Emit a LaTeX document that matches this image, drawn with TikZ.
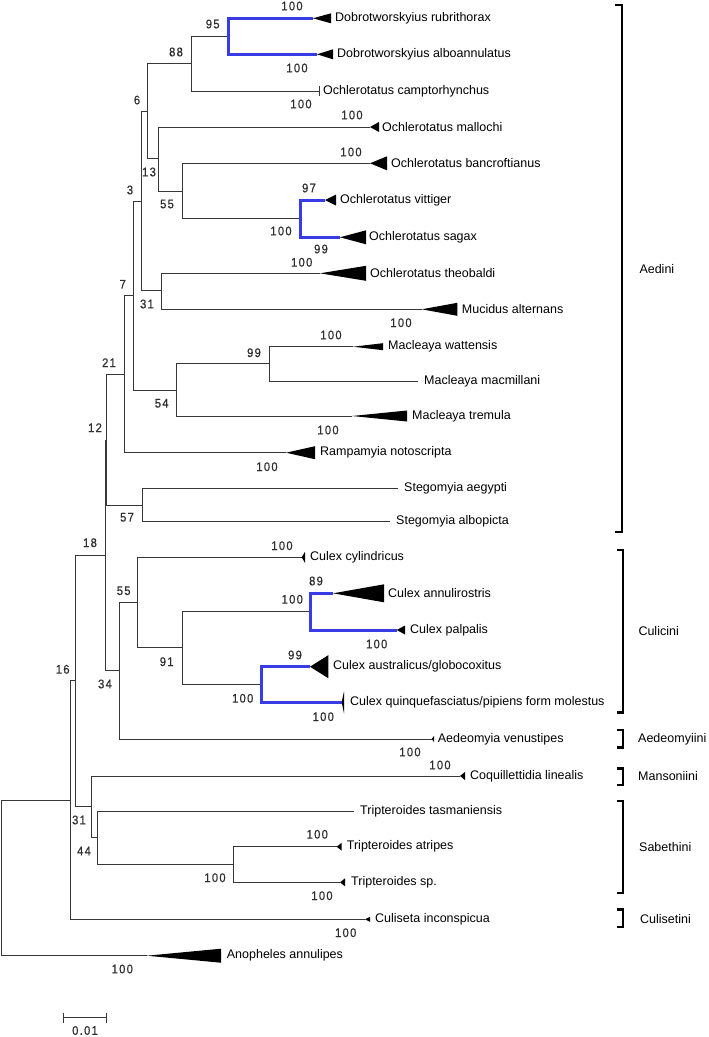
\documentclass[tikz,border=0pt]{standalone}
\usepackage{fontspec}
\setmainfont{Liberation Sans}
\newfontfamily\bsfont[FakeStretch=0.9,LetterSpace=10,FakeBold=0.6]{Liberation Sans}
\definecolor{treeline}{RGB}{55,55,55}
\definecolor{cladeblue}{RGB}{55,60,230}
\definecolor{bsgray}{RGB}{45,45,45}
\newcommand\mytri[3]{\fill[black] (#1) -- ++(#2,#3) -- ++(0,-2*#3) -- cycle;}
\begin{document}
\begin{tikzpicture}[x=1pt,y=-1pt,
  br/.style={draw=treeline,line width=1pt},
  bbr/.style={draw=cladeblue,line width=3pt},
  taxon/.style={anchor=west,inner sep=0pt,font=\fontsize{12.5}{14}\selectfont},
  bs/.style={inner sep=0pt,font=\bsfont\fontsize{12.5}{14}\selectfont,text=bsgray},
  tribe/.style={anchor=west,inner sep=0pt,font=\fontsize{12.5}{14}\selectfont},
  brk/.style={draw=black,line width=2.4pt}]
\useasboundingbox (0,0) rectangle (709,1037);

% ---- internal nodes (x, midpoint y)
\coordinate (root) at (1,800);
\coordinate (x7) at (70.7,800);
\coordinate (x8) at (75.3,680);
\coordinate (x6) at (105.3,555);
\coordinate (x5) at (106.7,440);
\coordinate (x4) at (124.7,374.3);
\coordinate (x3) at (133.3,295.7);
\coordinate (x2) at (141.7,201.7);
\coordinate (x1) at (147.3,111.7);
\coordinate (n88) at (191.3,63.3);
\coordinate (n95) at (228.7,36);
\coordinate (n13) at (158.7,158.6);
\coordinate (n55) at (182.3,191);
\coordinate (nvs) at (300,218.3);
\coordinate (n31) at (161.7,290);
\coordinate (n54) at (176,390);
\coordinate (n99) at (269,363.3);
\coordinate (n57) at (142.3,505.5);
\coordinate (n34) at (119,670);
\coordinate (n55b) at (137.7,602.3);
\coordinate (n91) at (182.3,647.3);
\coordinate (nann) at (310.7,611.7);
\coordinate (naus) at (261,684);
\coordinate (x9) at (91,806);
\coordinate (x10) at (97.7,837.3);
\coordinate (x11) at (233.3,864);

% ---- tips (branch end points)
\coordinate (t1) at (313,18.3);
\coordinate (t2) at (317,54.3);
\coordinate (t3) at (319,91);
\coordinate (t4) at (370,127);
\coordinate (t5) at (370,163.3);
\coordinate (t6) at (325,200);
\coordinate (t7) at (340,237.3);
\coordinate (t8) at (320,273.3);
\coordinate (t9) at (421.7,309.3);
\coordinate (t10) at (353,346.7);
\coordinate (t11) at (418,381);
\coordinate (t12) at (352,416);
\coordinate (t13) at (286,452.7);
\coordinate (t14) at (398,488.3);
\coordinate (t15) at (390,521.7);
\coordinate (t16) at (301.7,557.3);
\coordinate (t17) at (333,593.3);
\coordinate (t18) at (396.7,630);
\coordinate (t19) at (310,666.7);
\coordinate (t20) at (341.7,702.3);
\coordinate (t21) at (431.7,739);
\coordinate (t22) at (460,776);
\coordinate (t23) at (354,811);
\coordinate (t24) at (336.7,846.7);
\coordinate (t25) at (340,882.3);
\coordinate (t26) at (365,919.3);
\coordinate (t27) at (146.7,955.7);

% ---- black branches
\draw[br] (root) |- (x7);
\draw[br] (root) |- (t27);
\draw[br] (x7) |- (x8);
\draw[br] (x7) |- (t26);
\draw[br] (x8) |- (x6);
\draw[br] (x8) |- (x9);
\draw[br] (x9) |- (t22);
\draw[br] (x9) |- (x10);
\draw[br] (x10) |- (t23);
\draw[br] (x10) |- (x11);
\draw[br] (x11) |- (t24);
\draw[br] (x11) |- (t25);
\draw[br] (x6) |- (x5);
\draw[br] (x6) |- (n34);
\draw[br] (n34) |- (n55b);
\draw[br] (n34) |- (t21);
\draw[br] (n55b) |- (t16);
\draw[br] (n55b) |- (n91);
\draw[br] (n91) |- (nann);
\draw[br] (n91) |- (naus);
\draw[br] (x5) |- (x4);
\draw[br] (x5) |- (n57);
\draw[br] (n57) |- (t14);
\draw[br] (n57) |- (t15);
\draw[br] (x4) |- (x3);
\draw[br] (x4) |- (t13);
\draw[br] (x3) |- (x2);
\draw[br] (x3) |- (n54);
\draw[br] (n54) |- (n99);
\draw[br] (n54) |- (t12);
\draw[br] (n99) |- (t10);
\draw[br] (n99) |- (t11);
\draw[br] (x2) |- (x1);
\draw[br] (x2) |- (n31);
\draw[br] (n31) |- (t8);
\draw[br] (n31) |- (t9);
\draw[br] (x1) |- (n88);
\draw[br] (x1) |- (n13);
\draw[br] (n88) |- (n95);
\draw[br] (n88) |- (t3);
\draw[br] (t3) ++(0,-5) -- ++(0,10);
\draw[br] (n13) |- (t4);
\draw[br] (n13) |- (n55);
\draw[br] (n55) |- (t5);
\draw[br] (n55) |- (nvs);

% ---- blue branches
\draw[bbr] (n95) |- (t1);
\draw[bbr] (n95) |- (t2);
\draw[bbr] (nvs) |- (t6);
\draw[bbr] (nvs) |- (t7);
\draw[bbr] (nann) |- (t17);
\draw[bbr] (nann) |- (t18);
\draw[bbr] (naus) |- (t19);
\draw[bbr] (naus) |- (t20);

% ---- collapsed clades
\mytri{t1}{18}{5}
\mytri{t2}{16}{5}
\mytri{t4}{9}{5}
\mytri{t5}{17}{7}
\mytri{t6}{11}{5.5}
\mytri{t7}{26}{7}
\mytri{t8}{46}{7.5}
\mytri{t9}{35.6}{6.5}
\mytri{t10}{30}{3.5}
\mytri{t12}{55}{5.5}
\mytri{t13}{29}{6.5}
\mytri{t16}{3.3}{5.5}
\mytri{t17}{51}{9}
\mytri{t18}{8.3}{4.5}
\mytri{t19}{18.3}{11.5}
\mytri{t20}{2.3}{11}
\mytri{t21}{2.3}{3}
\mytri{t22}{5}{4}
\mytri{t24}{5}{4}
\mytri{t25}{5}{4}
\mytri{t26}{5}{2.5}
\mytri{t27}{74.3}{7}

% ---- taxon labels
\node[taxon] (l1) at (335,18.3) {Dobrotworskyius rubrithorax};
\node[taxon] (l2) at (337,54.3) {Dobrotworskyius alboannulatus};
\node[taxon] (l3) at (323,91) {Ochlerotatus camptorhynchus};
\node[taxon] (l4) at (382,127) {Ochlerotatus mallochi};
\node[taxon] (l5) at (391,163.3) {Ochlerotatus bancroftianus};
\node[taxon] (l6) at (340,200) {Ochlerotatus vittiger};
\node[taxon] (l7) at (369,237.3) {Ochlerotatus sagax};
\node[taxon] (l8) at (370,273.3) {Ochlerotatus theobaldi};
\node[taxon] (l9) at (461.7,309.3) {Mucidus alternans};
\node[taxon] (l10) at (388,346.7) {Macleaya wattensis};
\node[taxon] (l11) at (424,381) {Macleaya macmillani};
\node[taxon] (l12) at (412,416) {Macleaya tremula};
\node[taxon] (l13) at (320,452.7) {Rampamyia notoscripta};
\node[taxon] (l14) at (404,488.3) {Stegomyia aegypti};
\node[taxon] (l15) at (396,521.7) {Stegomyia albopicta};
\node[taxon] (l16) at (310,557.3) {Culex cylindricus};
\node[taxon] (l17) at (388,593.3) {Culex annulirostris};
\node[taxon] (l18) at (410,630) {Culex palpalis};
\node[taxon] (l19) at (333,666.7) {Culex australicus/globocoxitus};
\node[taxon] (l20) at (350,702.3) {Culex quinquefasciatus/pipiens form molestus};
\node[taxon] (l21) at (437.7,739) {Aedeomyia venustipes};
\node[taxon] (l22) at (470,776) {Coquillettidia linealis};
\node[taxon] (l23) at (360,811) {Tripteroides tasmaniensis};
\node[taxon] (l24) at (346.7,846.7) {Tripteroides atripes};
\node[taxon] (l25) at (351,882.3) {Tripteroides sp.};
\node[taxon] (l26) at (375,919.3) {Culiseta inconspicua};
\node[taxon] (l27) at (226.7,955.7) {Anopheles annulipes};

% ---- bootstrap values
\node[bs] (b1) at (292,6) {100};
\node[bs] (b2) at (212.7,24) {95};
\node[bs] (b3) at (297,68) {100};
\node[bs] (b4) at (176,52) {88};
\node[bs] (b5) at (301,104) {100};
\node[bs] (b6) at (137,100) {6};
\node[bs] (b7) at (352,115) {100};
\node[bs] (b8) at (149,172) {13};
\node[bs] (b9) at (351,152) {100};
\node[bs] (b10) at (130,190) {3};
\node[bs] (b11) at (167,204) {55};
\node[bs] (b12) at (309,188) {97};
\node[bs] (b13) at (281,231) {100};
\node[bs] (b14) at (321,249) {99};
\node[bs] (b15) at (301.7,262.3) {100};
\node[bs] (b16) at (122.7,284.3) {7};
\node[bs] (b17) at (147,304) {31};
\node[bs] (b18) at (401,322.7) {100};
\node[bs] (b19) at (331,335) {100};
\node[bs] (b20) at (254,352.7) {99};
\node[bs] (b21) at (109,362.7) {21};
\node[bs] (b22) at (161.7,403.3) {54};
\node[bs] (b23) at (328,430) {100};
\node[bs] (b24) at (95,427.7) {12};
\node[bs] (b25) at (267,466.7) {100};
\node[bs] (b26) at (127,517.3) {57};
\node[bs] (b27) at (90,542.7) {18};
\node[bs] (b28) at (282,545.7) {100};
\node[bs] (b29) at (316,581) {89};
\node[bs] (b30) at (123.7,590.7) {55};
\node[bs] (b31) at (292.3,599.3) {100};
\node[bs] (b32) at (376.7,644) {100};
\node[bs] (b33) at (295,655) {99};
\node[bs] (b34) at (166.7,661.7) {91};
\node[bs] (b35) at (62.7,669.3) {16};
\node[bs] (b36) at (105,684) {34};
\node[bs] (b37) at (242.7,698.3) {100};
\node[bs] (b38) at (323.3,716.7) {100};
\node[bs] (b39) at (410,752) {100};
\node[bs] (b40) at (440,765) {100};
\node[bs] (b41) at (79,820) {31};
\node[bs] (b42) at (317.3,834.3) {100};
\node[bs] (b43) at (84,851) {44};
\node[bs] (b44) at (215,877.7) {100};
\node[bs] (b45) at (322,895.7) {100};
\node[bs] (b46) at (345.7,932.7) {100};
\node[bs] (b47) at (122.3,969) {100};

% ---- tribe brackets
\draw[brk] (615,5) -- (622,5) -- (622,532) -- (615,532);
\node[tribe] (r1) at (639.3,269) {Aedini};
\draw[brk] (616.5,550) -- (623,550) -- (623,712.3) -- (616.5,712.3);
\node[tribe] (r2) at (638.3,631) {Culicini};
\draw[brk] (616.5,730) -- (623,730) -- (623,747.3) -- (616.5,747.3);
\node[tribe] (r3) at (638,739) {Aedeomyiini};
\draw[brk] (616.5,768.3) -- (623,768.3) -- (623,785) -- (616.5,785);
\node[tribe] (r4) at (638,776) {Mansoniini};
\draw[brk] (616.5,801) -- (623,801) -- (623,892.7) -- (616.5,892.7);
\node[tribe] (r5) at (639,847) {Sabethini};
\draw[brk] (616.5,909.3) -- (623,909.3) -- (623,926.7) -- (616.5,926.7);
\node[tribe] (r6) at (640,919) {Culisetini};

% ---- scale bar
\coordinate (s1) at (63.3,1017.7);
\coordinate (s2) at (106.7,1017.7);
\draw[br] (s1) -- (s2);
\draw[br] (s1) ++(0,-5) -- ++(0,10);
\draw[br] (s2) ++(0,-5) -- ++(0,10);
\node[bs] (sl) at (85,1030.5) {0.01};
\end{tikzpicture}
\end{document}
